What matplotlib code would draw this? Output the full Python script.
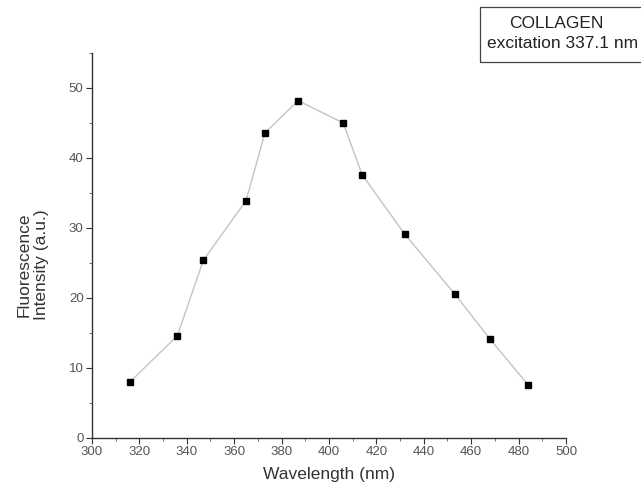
import numpy as np
import matplotlib.pyplot as plt
from matplotlib.patches import Rectangle
from matplotlib.ticker import MultipleLocator

# Collagen fluorescence emission, N2 laser excitation at 337.1 nm
wavelength = [316, 336, 347, 365, 373, 387, 406, 414, 432, 453, 468, 484]
intensity = [8.0, 14.6, 25.4, 33.9, 43.6, 48.2, 45.0, 37.6, 29.1, 20.6, 14.1, 7.6]

plt.rcParams["font.family"] = ["Liberation Sans", "DejaVu Sans"]

fig = plt.figure(figsize=(6.41, 5.0), dpi=100)
ax = fig.add_axes([0.1435, 0.124, 0.7395, 0.770])

ax.plot(wavelength, intensity, color="#c4c4c4", lw=1.0, zorder=1)
ax.plot(wavelength, intensity, ls="none", marker="s", ms=5, color="black", zorder=2)

ax.set_xlim(300, 500)
ax.set_ylim(0, 55)
ax.xaxis.set_major_locator(MultipleLocator(20))
ax.xaxis.set_minor_locator(MultipleLocator(10))
ax.yaxis.set_major_locator(MultipleLocator(10))
ax.yaxis.set_minor_locator(MultipleLocator(5))
ax.set_yticks([0, 10, 20, 30, 40, 50])

for side in ("top", "right"):
    ax.spines[side].set_visible(False)
for side in ("left", "bottom"):
    ax.spines[side].set_color("#333333")
    ax.spines[side].set_linewidth(1.0)

ax.tick_params(which="major", direction="out", length=4, width=0.8, pad=2,
               colors="#333333", labelsize=9.5, labelcolor="#555555")
ax.tick_params(which="minor", direction="out", length=2, width=0.6,
               colors="#555555")

ax.set_xlabel("Wavelength (nm)", fontsize=12.5, color="#333333", labelpad=6)
ax.set_ylabel("Fluorescence\nIntensity (a.u.)", fontsize=12.5,
              color="#333333")
ax.yaxis.set_label_coords(-0.09, 0.45)

# sample label box in the top right corner
fig.add_artist(Rectangle((480 / 641, 1 - 62 / 500), 170 / 641, 55 / 500,
                         transform=fig.transFigure, fill=False,
                         ec="#444444", lw=0.9))
fig.text(0.868, 0.952, "COLLAGEN", ha="center", va="center",
         fontsize=12.5, color="#222222")
fig.text(0.877, 0.914, "excitation 337.1 nm", ha="center", va="center",
         fontsize=12.5, color="#222222")

fig.savefig("out.png", dpi=100)
